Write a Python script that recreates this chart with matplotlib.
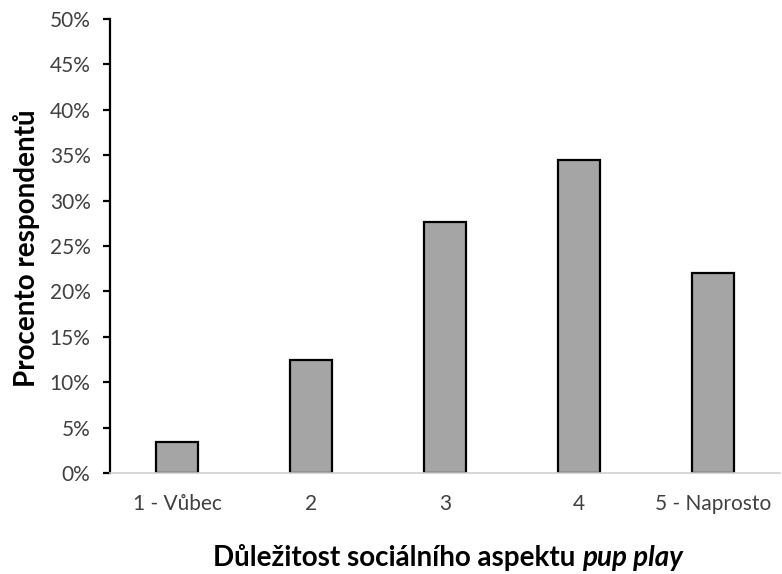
import matplotlib.pyplot as plt
from matplotlib.ticker import PercentFormatter, MultipleLocator
from matplotlib.offsetbox import TextArea, HPacker, AnchoredOffsetbox

plt.rcParams['font.family'] = ['Lato', 'DejaVu Sans']

# kategorie a podíly respondentů (%)
categories = ['1 - Vůbec', '2', '3', '4', '5 - Naprosto']
percent = [3.45, 12.41, 27.59, 34.48, 22.07]

fig = plt.figure(figsize=(7.82, 5.74), dpi=100)
ax = fig.add_axes([0.1407, 0.176, 0.8567, 0.791])

x = range(len(categories))
ax.bar(x, percent, width=0.32, color='#a5a5a5', edgecolor='black', linewidth=1.6)

ax.set_xlim(-0.5, len(categories) - 0.5)
ax.set_ylim(0, 50)
ax.yaxis.set_major_locator(MultipleLocator(5))
ax.yaxis.set_major_formatter(PercentFormatter(decimals=0))
ax.set_xticks(list(x))
ax.set_xticklabels(categories)

for s in ['top', 'right']:
    ax.spines[s].set_visible(False)
ax.spines['left'].set_linewidth(1.6)
ax.spines['left'].set_color('black')
ax.spines['bottom'].set_color('#d0d0d0')
ax.spines['bottom'].set_linewidth(1.2)

ax.tick_params(axis='y', direction='out', length=5, width=1.6, color='black',
               labelsize=15, labelcolor='#404040', pad=9)
ax.tick_params(axis='x', length=0, labelsize=15, labelcolor='#404040', pad=15)

fig.text(0.034, 0.568, 'Procento respondentů', rotation=90, fontsize=20,
         fontweight='bold', ha='center', va='center')

# popisek osy x: tučně + tučná kurzíva
t1 = TextArea('Důležitost sociálního aspektu ',
              textprops=dict(fontsize=20, fontweight='bold'))
t2 = TextArea('pup play',
              textprops=dict(fontsize=20, fontweight='bold', fontstyle='italic'))
box = HPacker(children=[t1, t2], align='baseline', pad=0, sep=0)
anch = AnchoredOffsetbox(loc='lower center', child=box, frameon=False,
                         bbox_to_anchor=(0.573, 0.006),
                         bbox_transform=fig.transFigure, borderpad=0, pad=0)
fig.add_artist(anch)

fig.savefig('out.png', dpi=100)
